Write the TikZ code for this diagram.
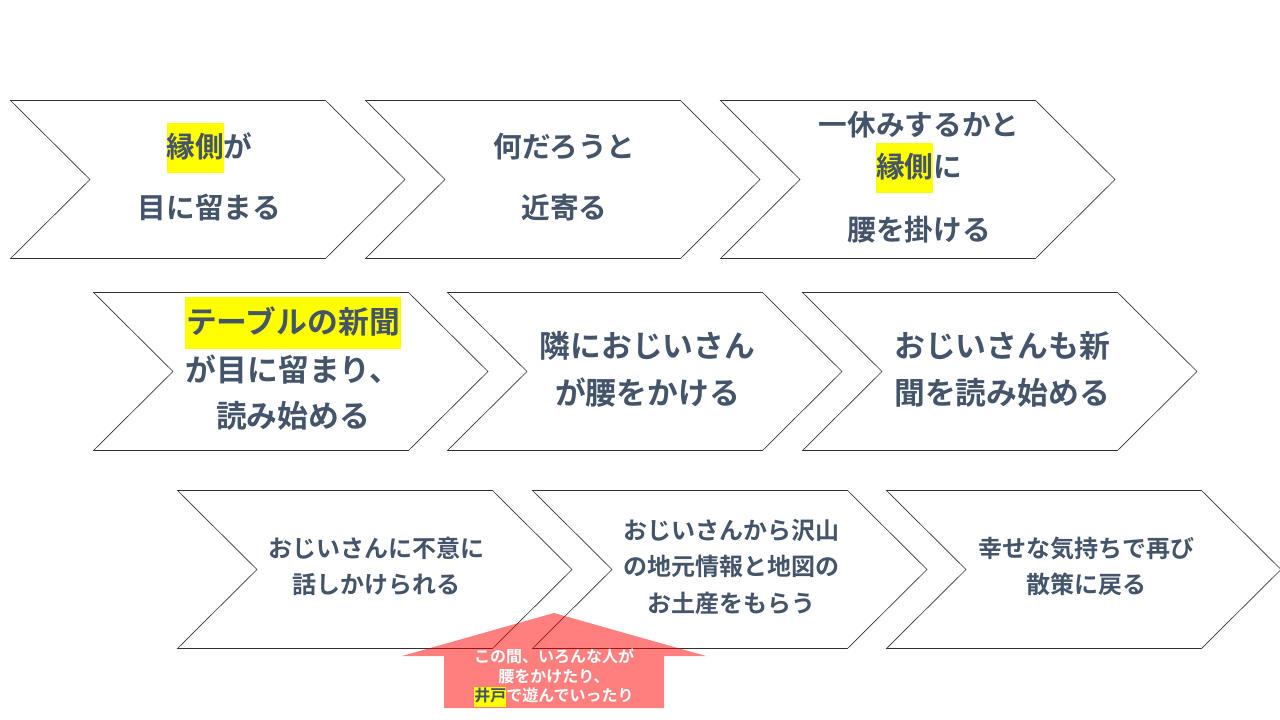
\documentclass[tikz,border=0pt]{standalone}
\usepackage{fontspec}
\setmainfont{Noto Sans CJK JP Bold}
\definecolor{slate}{HTML}{44546A}
\definecolor{chevronline}{HTML}{303030}
\definecolor{marker}{RGB}{255,255,0}
\newcommand{\hilite}[1]{{\setlength{\fboxsep}{0pt}\colorbox{marker}{\strut #1}}}
\tikzset{
  chevronshape/.style={draw=chevronline,line width=0.5pt,line join=miter},
  uparrow/.style={fill=red,opacity=0.5},
  linetext/.style={inner sep=0pt,text=slate,execute at begin node=\strut},
  bigtext/.style={linetext,font=\fontsize{21.5}{37.5}\selectfont},
  hugetext/.style={linetext,font=\fontsize{23.1}{39}\selectfont},
  midtext/.style={linetext,font=\fontsize{18}{26}\selectfont},
  smalltext/.style={inner sep=0pt,text=white,font=\fontsize{12}{15}\selectfont,execute at begin node=\strut},
}
\begin{document}
\begin{tikzpicture}[x=0.75pt,y=-0.75pt]
\useasboundingbox (0,0) rectangle (1280,720);
\foreach \cx/\cy in {10.5/100.5,365.5/100.5,720.5/100.5,93.5/292.5,447.5/292.5,802.5/292.5,177.5/490.5,532.5/490.5,886.5/490.5}
  \draw[chevronshape] (\cx,\cy) -- ++(315,0) -- ++(79.5,79) -- ++(-79.5,79) -- ++(-315,0) -- ++(79.5,-79) -- cycle;
\fill[uparrow] (554,613) -- (706,656) -- (664,656) -- (664,708) -- (444,708) -- (444,656) -- (402,656) -- cycle; % raised arrow
% first row
\node[bigtext] (engawaA) at (209.5,148) {\hilite{縁側}が};
\node[bigtext] (meniA) at (209.5,209) {目に留まる};
\node[bigtext] (nandaA) at (564.5,148) {何だろうと};
\node[bigtext] (nandaB) at (564.5,209) {近寄る};
\node[bigtext] (ikkyuA) at (919,126) {一休みするかと};
\node[bigtext] (ikkyuB) at (919,168) {\hilite{縁側}に};
\node[bigtext] (ikkyuC) at (919,231) {腰を掛ける};
% second row
\node[hugetext] (tableA) at (293,323) {\hilite{\hspace*{1pt}テーブルの新聞\hspace*{1pt}}};
\node[hugetext] (tableB) at (293,371) {が目に留まり、};
\node[hugetext] (tableC) at (293,417) {読み始める};
\node[hugetext] (tonariA) at (647.5,347) {隣におじいさん};
\node[hugetext] (tonariB) at (647.5,394) {が腰をかける};
\node[hugetext] (ojiA) at (1002,347) {おじいさんも新};
\node[hugetext] (ojiB) at (1002,394) {聞を読み始める};
% third row
\node[midtext] (fuiA) at (376.5,551) {おじいさんに不意に};
\node[midtext] (fuiB) at (376.5,587) {話しかけられる};
\node[midtext] (miyageA) at (731,533) {おじいさんから沢山};
\node[midtext] (miyageB) at (731,569) {の地元情報と地図の};
\node[midtext] (miyageC) at (731,606) {お土産をもらう};
\node[midtext] (sanpoA) at (1086,551) {幸せな気持ちで再び};
\node[midtext] (sanpoB) at (1086,587) {散策に戻る};
% arrow label
\node[smalltext] (idoA) at (554,658) {この間、いろんな人が};
\node[smalltext] (idoB) at (554,678) {腰をかけたり、};
\node[smalltext] (idoC) at (554,697) {\hilite{\textcolor{slate}{井戸}}で遊んでいったり};
\end{tikzpicture}
\end{document}
